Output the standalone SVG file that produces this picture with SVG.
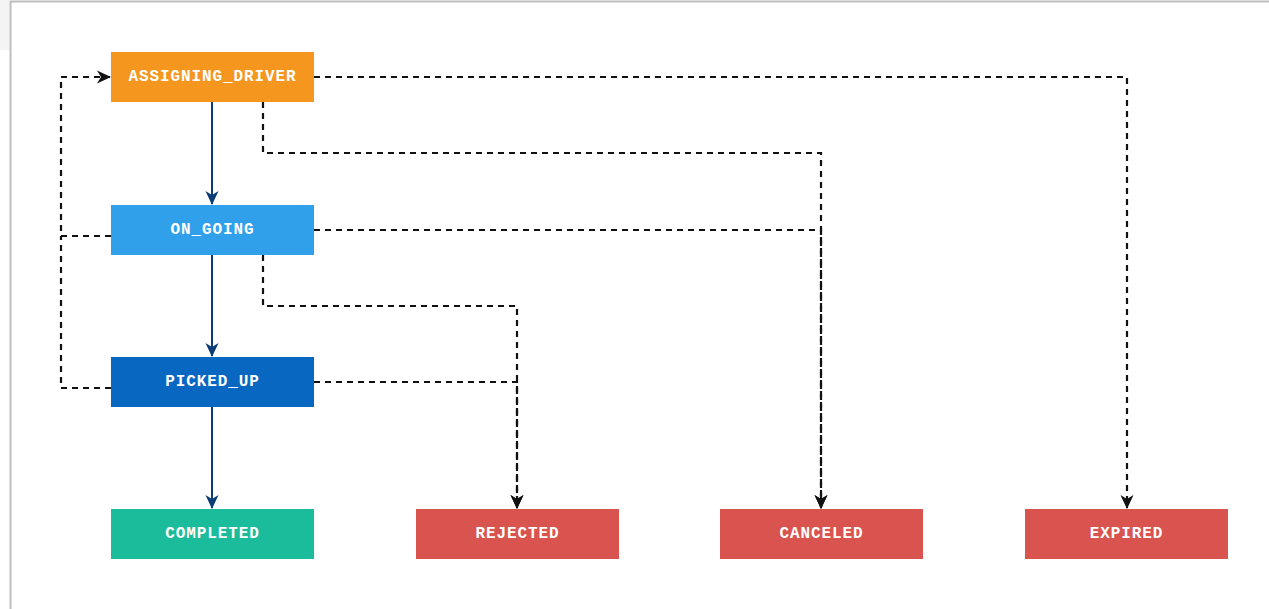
<svg xmlns="http://www.w3.org/2000/svg" width="1269" height="609" viewBox="0 0 1269 609">
<style>
.node text{font-family:"Liberation Mono","Courier New",monospace;font-weight:bold;font-size:16px;letter-spacing:0.9px;fill:#fff;text-anchor:middle;dominant-baseline:central}
.solid{fill:none;stroke:#0b3d78;stroke-width:2}
.dash{fill:none;stroke:#111;stroke-width:2.2;stroke-dasharray:6 5}
</style>
<defs>
<marker id="ab" viewBox="0 0 14 14" refX="13" refY="7" markerWidth="14" markerHeight="14" markerUnits="userSpaceOnUse" orient="auto"><path d="M0,0.5 L14,7 L0,13.5 L4,7 Z" fill="#0b3d78"/></marker>
<marker id="ak" viewBox="0 0 14 14" refX="13" refY="7" markerWidth="14" markerHeight="14" markerUnits="userSpaceOnUse" orient="auto"><path d="M0,0.5 L14,7 L0,13.5 L4,7 Z" fill="#111"/></marker>
</defs>
<rect x="0" y="0" width="1269" height="609" fill="#fff"/>
<rect x="0" y="0" width="9" height="50" fill="#f4f4f4"/>
<path d="M10.5,609 V1.5 H1269" fill="none" stroke="#bdbdbd" stroke-width="2"/>
<g id="connectors">
<path class="solid" d="M212,102 V204" marker-end="url(#ab)"/>
<path class="solid" d="M212,255 V356" marker-end="url(#ab)"/>
<path class="solid" d="M212,407 V508" marker-end="url(#ab)"/>
<path class="dash" d="M314,77 H1127 V508" marker-end="url(#ak)"/>
<path class="dash" d="M263,102 V153 H821 V508" marker-end="url(#ak)"/>
<path class="dash" d="M314,230 H821 V508" marker-end="url(#ak)"/>
<path class="dash" d="M263,255 V306 H517 V508" marker-end="url(#ak)"/>
<path class="dash" d="M314,382 H517 V508" marker-end="url(#ak)"/>
<path class="dash" d="M111,236 H61 V77 H110" marker-end="url(#ak)"/>
<path class="dash" d="M111,388 H61 V236"/>
</g>
<g id="assigning_driver" class="node"><rect x="111" y="52" width="203" height="50" fill="#f5961f"/><text x="212.5" y="77">ASSIGNING_DRIVER</text></g>
<g id="on_going" class="node"><rect x="111" y="205" width="203" height="50" fill="#31a0ea"/><text x="212.5" y="230">ON_GOING</text></g>
<g id="picked_up" class="node"><rect x="111" y="357" width="203" height="50" fill="#0867c1"/><text x="212.5" y="382">PICKED_UP</text></g>
<g id="completed" class="node"><rect x="111" y="509" width="203" height="50" fill="#1abc9c"/><text x="212.5" y="534">COMPLETED</text></g>
<g id="rejected" class="node"><rect x="416" y="509" width="203" height="50" fill="#d9534f"/><text x="517.5" y="534">REJECTED</text></g>
<g id="canceled" class="node"><rect x="720" y="509" width="203" height="50" fill="#d9534f"/><text x="821.5" y="534">CANCELED</text></g>
<g id="expired" class="node"><rect x="1025" y="509" width="203" height="50" fill="#d9534f"/><text x="1126.5" y="534">EXPIRED</text></g>
</svg>
